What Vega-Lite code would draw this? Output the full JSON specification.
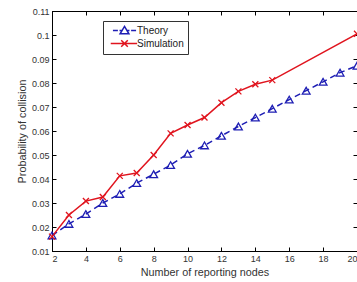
{
  "$schema": "https://vega.github.io/schema/vega-lite/v6.json",
  "width": 305,
  "height": 240,
  "autosize": "none",
  "padding": {"left": 52, "top": 11, "right": 0, "bottom": 31},
  "background": "white",
  "config": {
    "font": "Liberation Sans",
    "view": {"stroke": "black", "strokeWidth": 1},
    "axis": {
      "grid": false,
      "domainColor": "black",
      "tickColor": "black",
      "tickSize": -4,
      "labelFontSize": 9,
      "labelColor": "#333",
      "titleFontSize": 10.8,
      "titleFontWeight": "normal",
      "titleColor": "#333"
    }
  },
  "data": {
    "values": [
      {"n": 2, "p": 0.0165, "series": "Theory"},
      {"n": 3, "p": 0.0213, "series": "Theory"},
      {"n": 4, "p": 0.0254, "series": "Theory"},
      {"n": 5, "p": 0.0300, "series": "Theory"},
      {"n": 6, "p": 0.0338, "series": "Theory"},
      {"n": 7, "p": 0.0383, "series": "Theory"},
      {"n": 8, "p": 0.0420, "series": "Theory"},
      {"n": 9, "p": 0.0458, "series": "Theory"},
      {"n": 10, "p": 0.0505, "series": "Theory"},
      {"n": 11, "p": 0.0540, "series": "Theory"},
      {"n": 12, "p": 0.0580, "series": "Theory"},
      {"n": 13, "p": 0.0619, "series": "Theory"},
      {"n": 14, "p": 0.0656, "series": "Theory"},
      {"n": 15, "p": 0.0693, "series": "Theory"},
      {"n": 16, "p": 0.0731, "series": "Theory"},
      {"n": 17, "p": 0.0768, "series": "Theory"},
      {"n": 18, "p": 0.0805, "series": "Theory"},
      {"n": 19, "p": 0.0843, "series": "Theory"},
      {"n": 20, "p": 0.0872, "series": "Theory"},
      {"n": 2, "p": 0.0160, "series": "Simulation"},
      {"n": 3, "p": 0.0250, "series": "Simulation"},
      {"n": 4, "p": 0.0308, "series": "Simulation"},
      {"n": 5, "p": 0.0325, "series": "Simulation"},
      {"n": 6, "p": 0.0413, "series": "Simulation"},
      {"n": 7, "p": 0.0425, "series": "Simulation"},
      {"n": 8, "p": 0.0500, "series": "Simulation"},
      {"n": 9, "p": 0.0590, "series": "Simulation"},
      {"n": 10, "p": 0.0625, "series": "Simulation"},
      {"n": 11, "p": 0.0656, "series": "Simulation"},
      {"n": 12, "p": 0.0718, "series": "Simulation"},
      {"n": 13, "p": 0.0765, "series": "Simulation"},
      {"n": 14, "p": 0.0795, "series": "Simulation"},
      {"n": 15, "p": 0.0812, "series": "Simulation"},
      {"n": 20, "p": 0.1005, "series": "Simulation"}
    ]
  },
  "layer": [
    {
      "encoding": {
        "x": {"field": "n", "type": "quantitative",
              "scale": {"domain": [2, 20], "nice": false},
              "axis": {"values": [2, 4, 6, 8, 10, 12, 14, 16, 18, 20], "labelPadding": 7, "title": "Number of reporting nodes", "titlePadding": 3}},
        "y": {"field": "p", "type": "quantitative",
              "scale": {"domain": [0.01, 0.11], "nice": false, "zero": false},
              "axis": {"values": [0.01, 0.02, 0.03, 0.04, 0.05, 0.06, 0.07, 0.08, 0.09, 0.1, 0.11], "format": "~g", "labelPadding": 7, "title": "Probability of collision", "titlePadding": 4}},
        "color": {"field": "series", "type": "nominal",
                  "scale": {"domain": ["Theory", "Simulation"], "range": ["#1e1eb4", "#e0141e"]},
                  "legend": {
                    "title": null,
                    "orient": "none",
                    "legendX": 51,
                    "legendY": 10,
                    "strokeColor": "#333",
                    "fillColor": "white",
                    "padding": 4,
                    "symbolOffset": 12,
                    "labelOffset": 7,
                    "labelFontSize": 10,
                    "labelColor": "#222",
                    "rowPadding": 0,
                    "symbolSize": 81,
                    "symbolStrokeWidth": 1.5,
                    "encode": {
                      "symbols": {
                        "update": {
                          "shape": {"signal": "datum.value == 'Theory' ? 'M-2.57,0H-1.47M-1.1,0H-0.67M0,-0.92L0.98,0.73L-0.98,0.73ZM0.67,0H1.1M1.47,0H2.57' : 'M-3.06,0H2.81M-0.73,-0.73L0.73,0.73M-0.73,0.73L0.73,-0.73'"},
                          "fill": {"value": "transparent"},
                          "fillOpacity": {"value": 0},
                          "strokeWidth": {"value": 1.5}
                        }
                      }
                    }
                  }}
      },
      "layer": [
        {
          "transform": [{"filter": "datum.series == 'Theory'"}],
          "mark": {"type": "line", "strokeWidth": 1.5, "strokeDash": [6, 4]}
        },
        {
          "transform": [{"filter": "datum.series == 'Simulation'"}],
          "mark": {"type": "line", "strokeWidth": 1.5}
        },
        {
          "transform": [{"filter": "datum.series == 'Theory'"}],
          "mark": {"type": "point", "shape": "triangle-up", "filled": false, "strokeWidth": 1.3, "size": 60, "opacity": 1}
        },
        {
          "transform": [{"filter": "datum.series == 'Simulation'"}],
          "mark": {"type": "point", "shape": "M-1,-1L1,1M-1,1L1,-1", "filled": false, "strokeWidth": 1.3, "size": 36, "opacity": 1}
        }
      ]
    },
    {
      "mark": {"type": "point", "opacity": 0},
      "encoding": {
        "x": {"field": "n", "type": "quantitative",
              "scale": {"domain": [2, 20], "nice": false},
              "axis": {"orient": "top", "values": [2, 4, 6, 8, 10, 12, 14, 16, 18, 20], "labels": false, "title": null}},
        "y": {"field": "p", "type": "quantitative",
              "scale": {"domain": [0.01, 0.11], "nice": false, "zero": false},
              "axis": {"orient": "right", "values": [0.01, 0.02, 0.03, 0.04, 0.05, 0.06, 0.07, 0.08, 0.09, 0.1, 0.11], "labels": false, "title": null}}
      }
    }
  ],
  "resolve": {"scale": {"x": "independent", "y": "independent"}}
}
